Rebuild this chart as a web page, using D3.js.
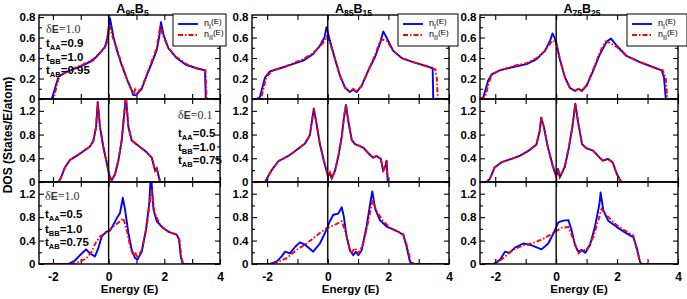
<!DOCTYPE html>
<html>
<head>
<meta charset="utf-8">
<script src="https://cdn.jsdelivr.net/npm/d3@7"></script>
<style>
  body { margin: 0; background: #fff; }
  svg text { font-family: "Liberation Sans", Arial, sans-serif; }
</style>
</head>
<body>
<div id="chart"></div>
<script>
const W = 687, H = 299;

// alloy compositions A_x B_y (one per column)
const alloyA = [95, 85, 75];
const alloyB = [5, 15, 25];

// hopping parameters (one per row)
const deltaE = ['1.0', '0.1', '1.0'];
const tAA = ['0.9', '0.5', '0.5'];
const tBB = ['1.0', '1.0', '1.0'];
const tAB = ['0.95', '0.75', '0.75'];

const energyTicks = [-2, 0, 2, 4];
const energyMinor = [-1, 1, 3];
const dosTicksTop = [0, 0.2, 0.4, 0.6, 0.8];
const dosMinorTop = [0.1, 0.3, 0.5, 0.7];
const dosTicks = [0, 0.4, 0.8, 1.2];
const dosMinor = [0.2, 0.6, 1.0];

// ---- row 1 : dE=1.0, tAA=0.9, tBB=1.0, tAB=0.95
const a95_r1_nI = [[-2.5,0],[-2.04,0],[-1.8,0.22],[-1.5,0.265],[-0.9,0.33],[-0.55,0.38],[-0.31,0.45],[-0.13,0.51],[-0.05,0.59],[0.05,0.79],[0.17,0.61],[0.29,0.48],[0.47,0.33],[0.65,0.2],[0.83,0.085],[0.88,0.04],[0.98,0.036],[1.19,0.1],[1.37,0.23],[1.55,0.35],[1.73,0.48],[1.82,0.61],[1.88,0.75],[1.97,0.63],[2.14,0.5],[2.44,0.4],[2.8,0.33],[3.16,0.3],[3.46,0.28],[3.49,0],[4,0]];
const a95_r1_nII = [[-2.5,0],[-1.98,0],[-1.78,0.22],[-1.5,0.27],[-0.9,0.34],[-0.55,0.39],[-0.31,0.45],[-0.13,0.5],[-0.05,0.56],[0.03,0.72],[0.15,0.6],[0.29,0.5],[0.47,0.34],[0.65,0.2],[0.83,0.08],[0.9,0.05],[0.95,0.09],[1.0,0.05],[1.19,0.11],[1.37,0.24],[1.55,0.37],[1.73,0.5],[1.85,0.71],[1.95,0.62],[2.14,0.5],[2.44,0.41],[2.8,0.34],[3.16,0.3],[3.48,0.28],[3.52,0],[4,0]];
const a85_r1_nI = [[-2.5,0],[-2.35,0],[-2.24,0.02],[-2.07,0.21],[-1.91,0.27],[-1.36,0.32],[-0.81,0.375],[-0.48,0.44],[-0.26,0.52],[-0.11,0.6],[-0.04,0.7],[0.07,0.57],[0.24,0.39],[0.4,0.23],[0.57,0.11],[0.73,0.068],[0.84,0.09],[0.95,0.068],[1.12,0.13],[1.34,0.28],[1.56,0.41],[1.72,0.54],[1.83,0.66],[1.94,0.6],[2.16,0.47],[2.44,0.4],[2.82,0.36],[3.26,0.32],[3.46,0.3],[3.48,0],[4,0]];
const a85_r1_nII = [[-2.5,0],[-2.3,0],[-2.18,0.03],[-2.03,0.21],[-1.85,0.27],[-1.3,0.33],[-0.81,0.39],[-0.48,0.45],[-0.26,0.51],[-0.1,0.57],[-0.03,0.61],[0.07,0.55],[0.24,0.39],[0.4,0.23],[0.57,0.11],[0.73,0.07],[0.84,0.1],[0.95,0.07],[1.12,0.13],[1.34,0.28],[1.56,0.43],[1.72,0.56],[1.8,0.58],[1.94,0.57],[2.16,0.47],[2.44,0.4],[2.82,0.36],[3.26,0.32],[3.55,0.29],[3.6,0.2],[3.63,0],[4,0]];
const a75_r1_nI = [[-2.5,0],[-2.39,0.02],[-2.23,0.18],[-2.12,0.24],[-1.85,0.28],[-1.3,0.32],[-0.97,0.34],[-0.64,0.39],[-0.37,0.47],[-0.2,0.57],[-0.12,0.64],[-0.01,0.57],[0.12,0.39],[0.29,0.21],[0.45,0.11],[0.62,0.078],[0.73,0.1],[0.84,0.078],[1.0,0.13],[1.22,0.28],[1.44,0.44],[1.66,0.56],[1.8,0.59],[1.99,0.52],[2.31,0.42],[2.75,0.36],[3.19,0.31],[3.46,0.28],[3.54,0.21],[3.6,0],[4,0]];
const a75_r1_nII = [[-2.5,0],[-2.33,0.02],[-2.2,0.17],[-2.1,0.24],[-1.85,0.28],[-1.3,0.33],[-0.97,0.35],[-0.64,0.4],[-0.37,0.47],[-0.2,0.54],[-0.1,0.57],[0.0,0.55],[0.12,0.39],[0.29,0.21],[0.45,0.11],[0.62,0.08],[0.73,0.1],[0.84,0.08],[1.0,0.13],[1.22,0.29],[1.44,0.46],[1.62,0.56],[1.75,0.55],[1.99,0.51],[2.31,0.42],[2.75,0.36],[3.19,0.31],[3.5,0.28],[3.6,0.2],[3.65,0],[4,0]];

// ---- row 2 : dE=0.1, tAA=0.5, tBB=1.0, tAB=0.75 (both curves coincide)
const a95_r2_nI = [[-2.5,0],[-1.81,0],[-1.72,0.063],[-1.57,0.245],[-1.39,0.37],[-1.15,0.44],[-0.91,0.52],[-0.67,0.6],[-0.55,0.69],[-0.45,0.93],[-0.39,1.35],[-0.31,0.93],[-0.19,0.59],[-0.07,0.33],[0.03,0.1],[0.11,0.03],[0.23,0.13],[0.35,0.36],[0.47,0.7],[0.55,1.1],[0.62,1.45],[0.71,0.93],[0.83,0.7],[1.07,0.61],[1.37,0.5],[1.55,0.41],[1.67,0.19],[1.73,0.23],[1.78,0.13],[1.85,0],[4,0]];
const a95_r2_nII = a95_r2_nI;
const a85_r2_nI = [[-2.5,0],[-2.07,0],[-1.96,0.1],[-1.85,0.2],[-1.63,0.35],[-1.3,0.44],[-1.03,0.54],[-0.75,0.65],[-0.59,0.79],[-0.46,1.24],[-0.37,0.98],[-0.26,0.64],[-0.13,0.36],[-0.04,0.19],[0.01,0.09],[0.07,0.16],[0.13,0.06],[0.24,0.19],[0.35,0.44],[0.46,0.76],[0.53,1.07],[0.6,1.3],[0.68,1.02],[0.79,0.71],[0.9,0.64],[1.17,0.58],[1.39,0.46],[1.5,0.41],[1.61,0.44],[1.75,0.39],[1.83,0.19],[1.89,0.25],[1.94,0.36],[1.98,0],[4,0]];
const a85_r2_nII = a85_r2_nI;
const a75_r2_nI = [[-2.5,0],[-2.29,0],[-2.18,0.05],[-2.02,0.245],[-1.8,0.33],[-1.47,0.39],[-1.2,0.44],[-0.93,0.52],[-0.65,0.63],[-0.54,0.86],[-0.49,1.09],[-0.4,0.92],[-0.27,0.58],[-0.11,0.27],[0.0,0.1],[0.06,0.22],[0.12,0.08],[0.28,0.25],[0.41,0.56],[0.53,0.92],[0.63,1.32],[0.72,1.01],[0.85,0.64],[0.99,0.57],[1.21,0.53],[1.43,0.41],[1.54,0.36],[1.7,0.39],[1.86,0.33],[1.97,0.16],[2.08,0.05],[2.14,0],[4,0]];
const a75_r2_nII = a75_r2_nI;

// ---- row 3 : dE=1.0, tAA=0.5, tBB=1.0, tAB=0.75
const a95_r3_nI = [[-2.5,0],[-1.45,0],[-1.21,0.06],[-1.03,0.15],[-0.81,0.25],[-0.67,0.18],[-0.49,0.13],[-0.37,0.27],[-0.25,0.47],[-0.09,0.55],[0.05,0.57],[0.17,0.67],[0.29,0.78],[0.41,0.87],[0.51,1.13],[0.59,0.93],[0.71,0.53],[0.83,0.24],[0.95,0.1],[1.04,0.08],[1.19,0.21],[1.34,0.58],[1.46,1.04],[1.52,1.55],[1.61,0.93],[1.73,0.73],[1.96,0.61],[2.2,0.54],[2.45,0.5],[2.53,0.41],[2.59,0.13],[2.66,0],[4,0]];
const a95_r3_nII = [[-2.5,0],[-1.33,0],[-1.03,0.04],[-0.79,0.1],[-0.61,0.21],[-0.49,0.34],[-0.31,0.47],[-0.07,0.54],[0.17,0.64],[0.41,0.73],[0.53,0.78],[0.65,0.58],[0.79,0.27],[0.89,0.14],[0.95,0.2],[1.04,0.1],[1.19,0.24],[1.37,0.64],[1.49,1.1],[1.55,1.27],[1.64,0.9],[1.83,0.68],[2.1,0.56],[2.45,0.5],[2.55,0.4],[2.61,0.12],[2.68,0],[4,0]];
const a85_r3_nI = [[-2.5,0],[-1.91,0],[-1.69,0.04],[-1.52,0.13],[-1.41,0.21],[-1.25,0.18],[-1.08,0.29],[-0.92,0.37],[-0.75,0.33],[-0.48,0.21],[-0.26,0.35],[-0.09,0.53],[0.07,0.73],[0.18,0.84],[0.35,0.86],[0.46,0.97],[0.53,0.81],[0.62,0.47],[0.73,0.24],[0.84,0.15],[0.93,0.21],[1.01,0.15],[1.12,0.24],[1.28,0.64],[1.42,1.1],[1.47,1.24],[1.56,0.95],[1.72,0.75],[1.94,0.64],[2.22,0.58],[2.49,0.5],[2.6,0.3],[2.71,0.04],[2.82,0],[4,0]];
const a85_r3_nII = [[-2.5,0],[-1.8,0],[-1.36,0.1],[-1.03,0.24],[-0.7,0.35],[-0.26,0.53],[-0.04,0.61],[0.24,0.67],[0.46,0.73],[0.6,0.53],[0.76,0.18],[0.9,0.27],[1.01,0.18],[1.17,0.35],[1.34,0.73],[1.48,1.1],[1.61,0.9],[1.83,0.73],[2.1,0.6],[2.49,0.51],[2.62,0.3],[2.74,0.04],[2.86,0],[4,0]];
const a75_r3_nI = [[-2.5,0],[-2.06,0],[-1.85,0.07],[-1.68,0.21],[-1.54,0.19],[-1.35,0.28],[-1.08,0.35],[-0.8,0.32],[-0.48,0.25],[-0.26,0.35],[-0.09,0.52],[0.07,0.71],[0.23,0.74],[0.4,0.75],[0.51,0.57],[0.62,0.32],[0.73,0.21],[0.84,0.24],[0.95,0.19],[1.11,0.32],[1.27,0.63],[1.42,1.02],[1.46,1.22],[1.55,0.91],[1.71,0.74],[1.99,0.63],[2.26,0.54],[2.53,0.46],[2.64,0.29],[2.75,0.04],[2.81,0],[4,0]];
const a75_r3_nII = [[-2.5,0],[-2.01,0],[-1.74,0.1],[-1.41,0.24],[-1.08,0.32],[-0.75,0.36],[-0.42,0.43],[-0.09,0.53],[0.18,0.62],[0.4,0.63],[0.56,0.43],[0.73,0.18],[0.86,0.24],[1.0,0.24],[1.22,0.46],[1.38,0.74],[1.49,0.94],[1.66,0.83],[1.99,0.66],[2.26,0.57],[2.53,0.49],[2.64,0.26],[2.77,0],[4,0]];

const seriesI = [
  [a95_r1_nI, a85_r1_nI, a75_r1_nI],
  [a95_r2_nI, a85_r2_nI, a75_r2_nI],
  [a95_r3_nI, a85_r3_nI, a75_r3_nI]
];
const seriesII = [
  [a95_r1_nII, a85_r1_nII, a75_r1_nII],
  [a95_r2_nII, a85_r2_nII, a75_r2_nII],
  [a95_r3_nII, a85_r3_nII, a75_r3_nII]
];

// layout
const colLeft = [39, 252, 480], colRight = [220, 449, 678];
const rowTop = [15, 99, 182], rowBottom = [99, 182, 264];
const yMax = [0.82, 1.4, 1.4];
const blue = '#0000ff', red = '#ff0000';
const redDash = '5,2,1.5,2';

const svg = d3.select('#chart').append('svg')
  .attr('width', W)
  .attr('height', H);

function styleAxis(g, size) {
  g.select('.domain').remove();
  g.selectAll('line').attr('stroke', '#000').attr('stroke-width', 1.1);
  g.selectAll('text')
    .attr('font-family', '"Liberation Sans", Arial, sans-serif')
    .attr('font-size', size)
    .attr('font-weight', 'bold')
    .attr('fill', '#000');
}

for (let r = 0; r < 3; r++) {
  for (let c = 0; c < 3; c++) {
    const x = d3.scaleLinear().domain([-2.5, 4]).range([colLeft[c], colRight[c]]);
    const y = d3.scaleLinear().domain([0, yMax[r]]).range([rowBottom[r], rowTop[r]]);
    const g = svg.append('g');
    const clipId = `clip-${r}-${c}`;

    g.append('clipPath').attr('id', clipId)
      .append('rect')
      .attr('x', colLeft[c]).attr('y', rowTop[r])
      .attr('width', colRight[c] - colLeft[c])
      .attr('height', rowBottom[r] - rowTop[r]);

    const majorY = r === 0 ? dosTicksTop : dosTicks;
    const minorY = r === 0 ? dosMinorTop : dosMinor;

    // ticks, all pointing inward
    const bottom = g.append('g').attr('transform', `translate(0,${rowBottom[r]})`)
      .call(d3.axisBottom(x).tickValues(energyTicks).tickSize(-5).tickPadding(8));
    styleAxis(bottom, 12);
    bottom.selectAll('text').text(d => r === 2 ? String(d) : '');
    g.append('g').attr('transform', `translate(0,${rowBottom[r]})`)
      .call(d3.axisBottom(x).tickValues(energyMinor).tickSize(-5).tickFormat(''))
      .call(a => styleAxis(a, 10));
    g.append('g').attr('transform', `translate(0,${rowTop[r]})`)
      .call(d3.axisTop(x).tickValues(energyTicks.concat(energyMinor)).tickSize(-5).tickFormat(''))
      .call(a => styleAxis(a, 10));

    const left = g.append('g').attr('transform', `translate(${colLeft[c]},0)`)
      .call(d3.axisLeft(y).tickValues(majorY).tickSize(-5).tickPadding(3.5)
        .tickFormat(d => d === 0 ? '0' : d3.format('.1f')(d)));
    styleAxis(left, 11.5);
    g.append('g').attr('transform', `translate(${colLeft[c]},0)`)
      .call(d3.axisLeft(y).tickValues(minorY).tickSize(-3).tickFormat(''))
      .call(a => styleAxis(a, 10));
    g.append('g').attr('transform', `translate(${colRight[c]},0)`)
      .call(d3.axisRight(y).tickValues(majorY).tickSize(-5).tickFormat(''))
      .call(a => styleAxis(a, 10));
    g.append('g').attr('transform', `translate(${colRight[c]},0)`)
      .call(d3.axisRight(y).tickValues(minorY).tickSize(-3).tickFormat(''))
      .call(a => styleAxis(a, 10));

    // curves
    const line = d3.line().x(d => x(d[0])).y(d => y(d[1]));
    const plot = g.append('g').attr('clip-path', `url(#${clipId})`);
    plot.append('path').datum(seriesI[r][c])
      .attr('d', line).attr('fill', 'none')
      .attr('stroke', blue).attr('stroke-width', 1.9)
      .attr('stroke-linejoin', 'round');
    plot.append('path').datum(seriesII[r][c])
      .attr('d', line).attr('fill', 'none')
      .attr('stroke', red).attr('stroke-width', 1.9)
      .attr('stroke-dasharray', redDash);

    // E = 0 line and frame
    g.append('line')
      .attr('x1', x(0)).attr('x2', x(0))
      .attr('y1', rowTop[r]).attr('y2', rowBottom[r])
      .attr('stroke', '#000').attr('stroke-width', 1.4);
    g.append('rect')
      .attr('x', colLeft[c]).attr('y', rowTop[r])
      .attr('width', colRight[c] - colLeft[c])
      .attr('height', rowBottom[r] - rowTop[r])
      .attr('fill', 'none').attr('stroke', '#000').attr('stroke-width', 1.4);
  }
}

// titles A_x B_y
for (let c = 0; c < 3; c++) {
  const cx = (colLeft[c] + colRight[c]) / 2 + 3;
  const t = svg.append('text')
    .attr('x', cx).attr('y', 12.5)
    .attr('text-anchor', 'middle')
    .attr('font-weight', 'bold')
    .attr('font-size', 12.5);
  t.append('tspan').text('A');
  t.append('tspan').attr('font-size', 8.5).attr('dy', 3).text(alloyA[c]);
  t.append('tspan').attr('dy', -3).text('B');
  t.append('tspan').attr('font-size', 8.5).attr('dy', 3).text(alloyB[c]);
}

// legends
const legX = [173, 398, 627], legW = [53, 60, 60];
for (let c = 0; c < 3; c++) {
  const lg = svg.append('g');
  lg.append('rect')
    .attr('x', legX[c]).attr('y', 14).attr('width', legW[c]).attr('height', 32)
    .attr('fill', '#fff').attr('stroke', '#000').attr('stroke-width', 1);
  [['I', blue, null, 24], ['II', red, redDash, 35]].forEach(([sub, col, dash, ly]) => {
    lg.append('line')
      .attr('x1', legX[c] + 5).attr('x2', legX[c] + 25)
      .attr('y1', ly).attr('y2', ly)
      .attr('stroke', col).attr('stroke-width', 1.9)
      .attr('stroke-dasharray', dash);
    const tx = lg.append('text')
      .attr('x', legX[c] + 31).attr('y', ly + 2)
      .attr('font-size', 9);
    tx.append('tspan').text('n');
    tx.append('tspan').attr('font-size', 7).attr('dy', 3).text(sub);
    tx.append('tspan').attr('font-size', 8).attr('dy', -5).text('(E)');
  });
}

// parameter annotations
const annX = [46, 178, 45];
const annY = [[33, 47, 61, 74], [119, 137, 151, 164], [200, 218, 233, 246]];
function tLabel(xp, yp, sub, val) {
  const t = svg.append('text').attr('x', xp).attr('y', yp)
    .attr('font-size', 11.5).attr('font-weight', 'bold');
  t.append('tspan').text('t');
  t.append('tspan').attr('font-size', 7.5).attr('dy', 3).text(sub);
  t.append('tspan').attr('dy', -3).text('=' + val);
}
for (let r = 0; r < 3; r++) {
  const d = svg.append('text').attr('x', annX[r]).attr('y', annY[r][0])
    .attr('font-size', 12).attr('fill', '#333');
  d.append('tspan').attr('font-family', '"Liberation Serif", serif').text('δ');
  d.append('tspan').attr('font-weight', 'bold').attr('font-size', 10.5).text('E');
  d.append('tspan').attr('font-family', '"Liberation Serif", serif').text('=' + deltaE[r]);
  tLabel(annX[r], annY[r][1], 'AA', tAA[r]);
  tLabel(annX[r], annY[r][2], 'BB', tBB[r]);
  tLabel(annX[r], annY[r][3], 'AB', tAB[r]);
}

// axis titles
for (let c = 0; c < 3; c++) {
  svg.append('text')
    .attr('x', (colLeft[c] + colRight[c]) / 2).attr('y', 293)
    .attr('text-anchor', 'middle')
    .attr('font-size', 11.5).attr('font-weight', 'bold')
    .text('Energy (E)');
}
svg.append('text')
  .attr('transform', 'translate(12,135) rotate(-90)')
  .attr('text-anchor', 'middle')
  .attr('font-size', 12).attr('font-weight', 'bold')
  .text('DOS (States/E/atom)');
</script>
</body>
</html>
